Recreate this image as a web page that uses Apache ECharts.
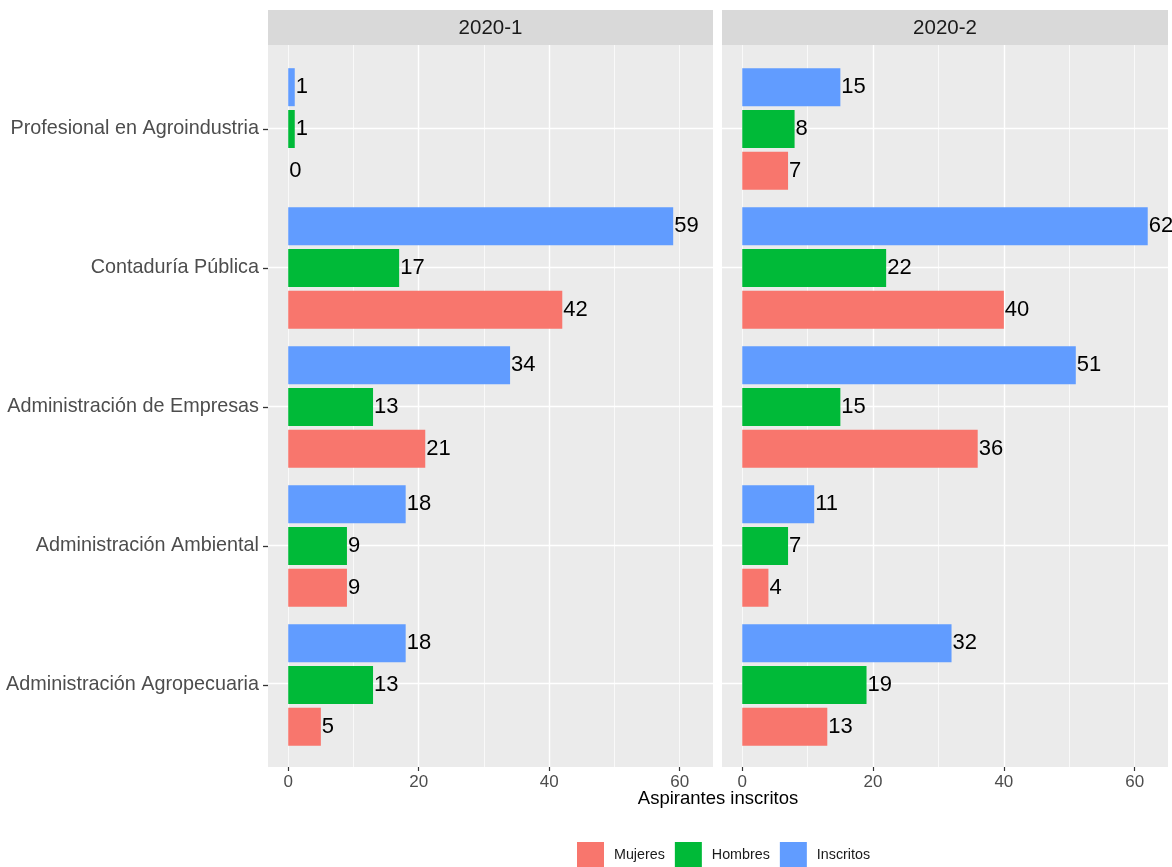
<!DOCTYPE html>
<html><head><meta charset="utf-8">
<script src="https://cdn.jsdelivr.net/npm/echarts@6/dist/echarts.min.js"></script>
<style>html,body{margin:0;padding:0;background:#fff}#c{width:1172px;height:867px}</style>
</head><body><div id="c"></div>
<script>
// categories bottom -> top (ECharts category y axis starts at bottom)
const programas = ["Administración Agropecuaria","Administración Ambiental","Administración de Empresas","Contaduría Pública","Profesional en Agroindustria"];
const periodos = ["2020-1","2020-2"];
const legendNames = ["Mujeres","Hombres","Inscritos"];
// drawing order: first series is placed at the top of each band
const seriesNames = ["Inscritos","Hombres","Mujeres"];
const colores = {"Mujeres":"#F8766D","Hombres":"#00BA38","Inscritos":"#619CFF"};
// 2020-1
const mujeres1   = [5, 9, 21, 42, 0];
const hombres1   = [13, 9, 13, 17, 1];
const inscritos1 = [18, 18, 34, 59, 1];
// 2020-2
const mujeres2   = [13, 4, 36, 40, 7];
const hombres2   = [19, 7, 15, 22, 8];
const inscritos2 = [32, 11, 51, 62, 15];
const xTicks = [0, 20, 40, 60];

const FONT = "'Liberation Sans', Arial, sans-serif";
const XMIN = -3.1, XMAX = 65.1;
const panels = [{left:268, width:445}, {left:722, width:446}];
const bgTop = 45, bgH = 722, barTop = 59.5, barH = 695;

const grids = [], xAxes = [], yAxes = [], series = [], graphics = [];
panels.forEach((p) => {
  grids.push({left:p.left, width:p.width, top:bgTop, height:bgH, show:true, backgroundColor:'#EBEBEB', borderWidth:0});
});
panels.forEach((p) => {
  grids.push({left:p.left, width:p.width, top:barTop, height:barH, show:false});
});
// background axes (grid lines, tick labels)
panels.forEach((p, i) => {
  xAxes.push({type:'value', gridIndex:i, position:'bottom', min:XMIN, max:XMAX, splitNumber:3,
    axisLine:{show:false, onZero:false},
    axisTick:{show:true, customValues:xTicks, length:4, lineStyle:{color:'#333', width:1.2}},
    axisLabel:{show:true, customValues:xTicks, color:'#4D4D4D', fontSize:17, fontFamily:FONT, margin:7,
      formatter: v => (xTicks.indexOf(v) >= 0 ? String(v) : '')},
    splitLine:{show:true, showMinLine:false, showMaxLine:false, lineStyle:{color:'#fff', width:1.4}}});
  xAxes.push({type:'value', gridIndex:i, position:'top', min:XMIN, max:XMAX, splitNumber:5,
    axisLine:{show:false, onZero:false}, axisTick:{show:false}, axisLabel:{show:false},
    splitLine:{show:true, showMinLine:false, showMaxLine:false, lineStyle:{color:'#fff', width:0.7}}});
  yAxes.push({type:'value', gridIndex:i, min:0.4, max:5.6, splitNumber:5,
    axisLine:{show:false, onZero:false}, axisTick:{show:false}, axisLabel:{show:false},
    splitLine:{show:true, showMinLine:false, showMaxLine:false, lineStyle:{color:'#fff', width:1.4}}});
});
// bar axes
panels.forEach((p, i) => {
  xAxes.push({type:'value', gridIndex:2+i, min:XMIN, max:XMAX, show:false, splitLine:{show:false}, axisLine:{show:false, onZero:false}});
  yAxes.push({type:'category', gridIndex:2+i, data:programas, position:'left',
    axisLine:{show:false, onZero:false},
    axisTick:{show:i===0, alignWithLabel:true, length:5, lineStyle:{color:'#333', width:1.3}},
    axisLabel:{show:i===0, color:'#4D4D4D', fontSize:19.8, fontFamily:FONT, margin:9},
    splitLine:{show:false}});
});
const datos = [
  {"Mujeres":mujeres1, "Hombres":hombres1, "Inscritos":inscritos1},
  {"Mujeres":mujeres2, "Hombres":hombres2, "Inscritos":inscritos2}
];
panels.forEach((p, i) => {
  seriesNames.forEach((n) => {
    series.push({type:'bar', name:n, xAxisIndex:4+i, yAxisIndex:2+i, data:datos[i][n],
      barWidth:38, barGap:'10%',
      itemStyle:{color:colores[n]},
      label:{show:true, position:'right', distance:1, color:'#000', fontSize:22, fontFamily:FONT},
      emphasis:{disabled:true}, animation:false});
  });
  graphics.push({type:'rect', shape:{x:p.left, y:10, width:p.width, height:35}, style:{fill:'#D9D9D9'}});
  graphics.push({type:'text', x:p.left + p.width/2, y:28, style:{text:periodos[i], fill:'#1A1A1A', fontSize:20.5, fontFamily:FONT, align:'center', verticalAlign:'middle'}});
});
graphics.push({type:'text', x:718, y:799, style:{text:'Aspirantes inscritos', fill:'#000', fontSize:18.5, fontFamily:FONT, align:'center', verticalAlign:'middle'}});

const chart = echarts.init(document.getElementById('c'), null, {renderer:'canvas'});
chart.setOption({
  animation:false,
  grid:grids, xAxis:xAxes, yAxis:yAxes, series:series,
  legend:{data:legendNames, left:577, top:842, padding:0, itemWidth:27, itemHeight:27, itemGap:10, icon:'rect',
    textStyle:{color:'#1A1A1A', fontSize:14.3, fontFamily:FONT, padding:[0,0,0,5]}},
  graphic:graphics
});
</script></body></html>
